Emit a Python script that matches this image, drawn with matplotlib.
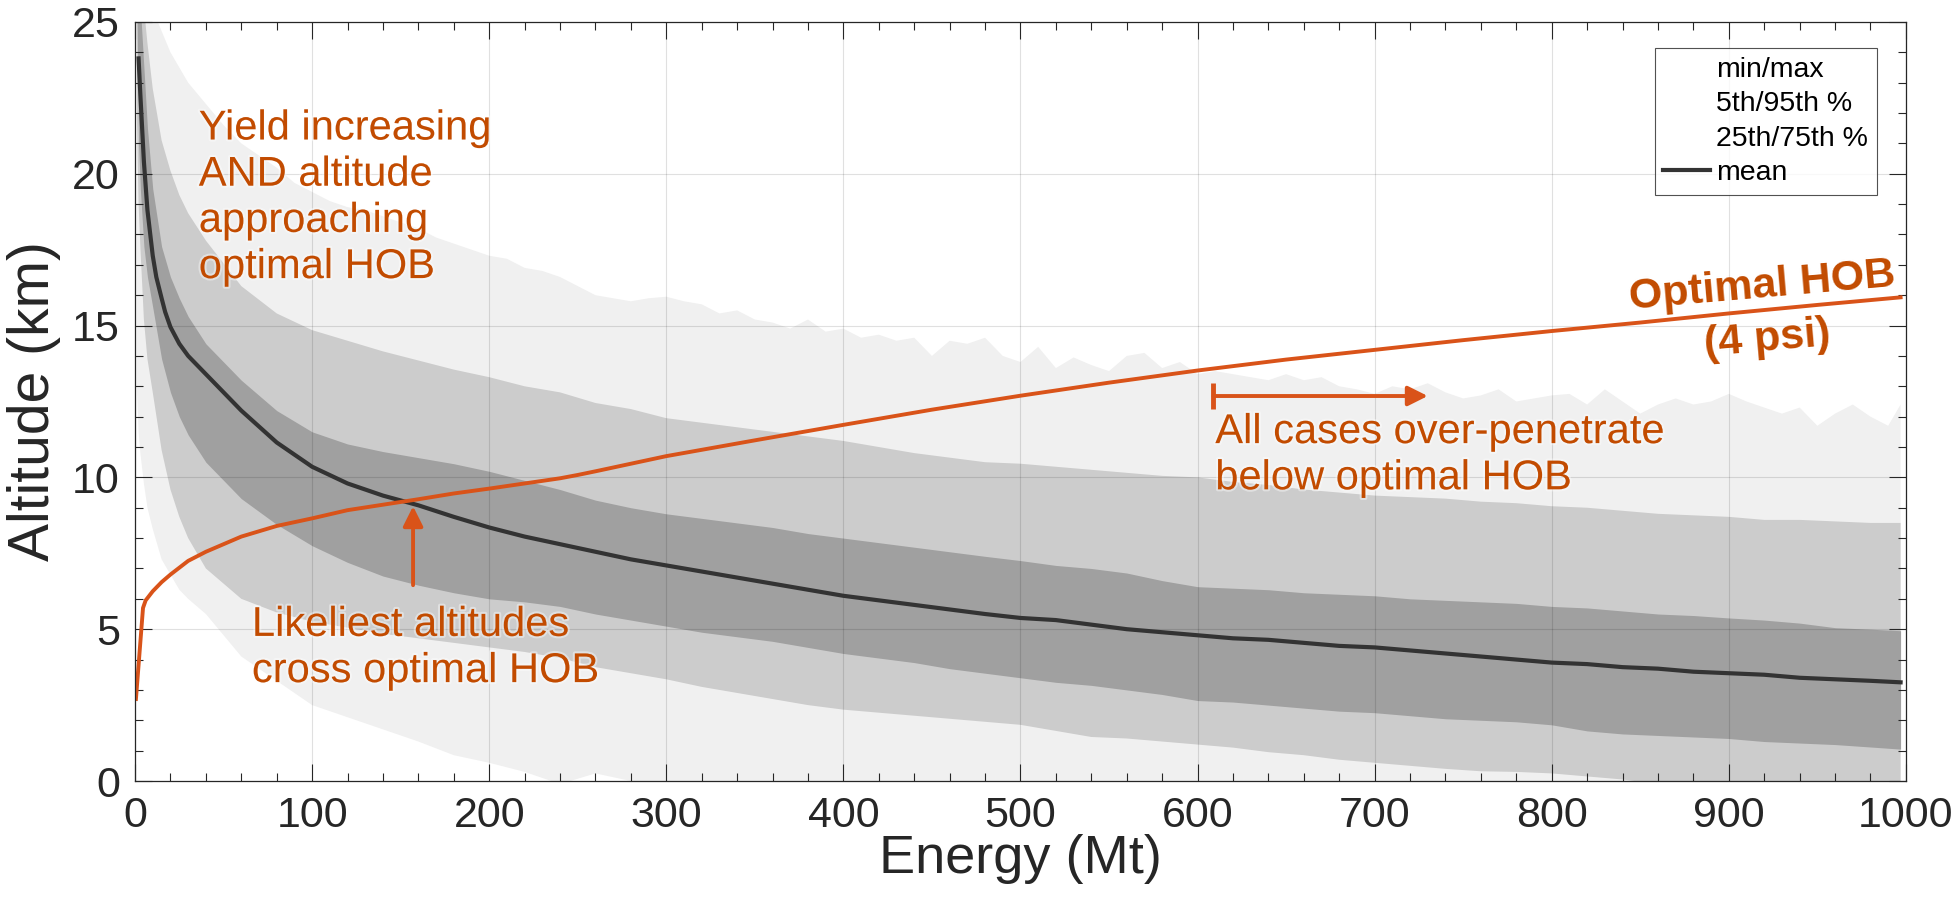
import numpy as np
import matplotlib.pyplot as plt
import matplotlib.patheffects as pe
from matplotlib.patches import Patch
from matplotlib.lines import Line2D

plt.rcParams['font.family'] = ['Liberation Sans', 'DejaVu Sans']

# energy grid (Mt) shared by the percentile bands
energy = [1, 2, 3, 5, 7, 10, 15, 20, 25, 30, 40,
          60, 80, 100, 120, 140, 160, 180, 200, 220, 240, 260, 280, 300,
          320, 340, 360, 380, 400, 420, 440, 460, 480, 500, 520, 540, 560,
          580, 600, 620, 640, 660, 680, 700, 720, 740, 760, 780, 800, 820,
          840, 860, 880, 900, 920, 940, 960, 980, 997]

alt_min = [13.0, 11.5, 10.8, 9.8, 9.0, 8.3, 7.3, 6.8, 6.3, 6.0, 5.5,
           4.1, 3.3, 2.5, 2.1, 1.7, 1.3, 0.85, 0.6, 0.3, -0.1, 0.25, 0.0, -0.3,
           -0.5, -0.5, -0.5, -0.5, -0.5, -0.5, -0.5, -0.5, -0.5, -0.5, -0.5, -0.5, -0.5,
           -0.5, -0.5, -0.5, -0.5, -0.5, -0.5, -0.5, -0.5, -0.5, -0.5, -0.5, -0.5, -0.5,
           -0.5, -0.5, -0.5, -0.5, -0.5, -0.5, -0.5, -0.5, -0.5]

alt_p5 = [22.0, 19.0, 17.6, 15.2, 13.9, 12.8, 10.9, 9.6, 8.7, 8.0, 7.0,
          6.0, 5.55, 5.25, 5.05, 4.85, 4.7, 4.55, 4.4, 4.25, 4.05, 3.75, 3.55, 3.35,
          3.1, 2.9, 2.7, 2.5, 2.35, 2.25, 2.15, 2.05, 1.95, 1.85, 1.65, 1.45, 1.4,
          1.3, 1.2, 1.1, 0.95, 0.85, 0.7, 0.6, 0.5, 0.4, 0.32, 0.3, 0.25, 0.15,
          0.05, -0.1, -0.2, -0.3, -0.4, -0.5, -0.55, -0.6, -0.7]

alt_p25 = [26.0, 21.0, 19.5, 17.6, 16.6, 15.6, 13.9, 12.8, 12.0, 11.4, 10.5,
           9.3, 8.45, 7.75, 7.2, 6.75, 6.45, 6.2, 6.0, 5.9, 5.75, 5.5, 5.3, 5.1,
           4.9, 4.75, 4.6, 4.4, 4.2, 4.05, 3.9, 3.7, 3.55, 3.4, 3.25, 3.15, 3.0,
           2.85, 2.65, 2.6, 2.5, 2.4, 2.3, 2.25, 2.15, 2.05, 2.0, 1.95, 1.85, 1.65,
           1.55, 1.5, 1.45, 1.4, 1.3, 1.25, 1.2, 1.12, 1.05]

alt_p75 = [30.0, 26.0, 25.5, 23.5, 21.5, 19.5, 17.6, 16.6, 15.9, 15.3, 14.4,
           13.2, 12.2, 11.5, 11.1, 10.85, 10.65, 10.45, 10.2, 9.9, 9.6, 9.25, 9.0, 8.8,
           8.65, 8.5, 8.35, 8.15, 8.0, 7.85, 7.7, 7.55, 7.4, 7.26, 7.1, 7.0, 6.85,
           6.6, 6.4, 6.35, 6.3, 6.2, 6.15, 6.1, 6.0, 5.95, 5.9, 5.85, 5.75, 5.7,
           5.6, 5.5, 5.45, 5.37, 5.3, 5.2, 5.05, 5.0, 4.95]

alt_p95 = [32.0, 28.0, 27.0, 25.5, 24.3, 22.8, 21.1, 20.1, 19.3, 18.7, 17.8,
           16.3, 15.4, 14.85, 14.5, 14.15, 13.85, 13.55, 13.3, 13.0, 12.8, 12.45, 12.25, 11.95,
           11.8, 11.65, 11.5, 11.35, 11.2, 11.0, 10.8, 10.65, 10.5, 10.45, 10.35, 10.25, 10.15,
           10.05, 10.0, 9.85, 9.75, 9.6, 9.5, 9.4, 9.35, 9.3, 9.2, 9.15, 9.05, 9.0,
           8.9, 8.8, 8.75, 8.7, 8.6, 8.6, 8.55, 8.5, 8.5]

# max edge is more jagged, read on a finer grid
energy_max = [1, 10, 20, 30, 40, 50, 60, 70, 80, 90, 100, 110, 120, 130, 140, 150,
              160, 170, 180, 190, 200, 210, 220, 230, 240, 250, 260, 270, 280, 290,
              300, 310, 320, 330, 340, 350, 360, 370, 380, 390, 400, 410, 420, 430,
              440, 450, 460, 470, 480, 490, 500, 510, 520, 530, 540, 550, 560, 570,
              580, 590, 600, 610, 620, 630, 640, 650, 660, 670, 680, 690, 700, 710,
              720, 730, 740, 750, 760, 770, 780, 790, 800, 810, 820, 830, 840, 850,
              860, 870, 880, 890, 900, 910, 920, 930, 940, 950, 960, 970, 980, 990, 997]
alt_max = [35.0, 25.4, 24.0, 23.0, 22.3, 21.6, 21.0, 20.6, 20.2, 19.7, 19.4, 19.1, 18.9, 18.8, 18.6, 18.4,
           18.2, 17.9, 17.7, 17.5, 17.3, 17.2, 16.9, 16.8, 16.6, 16.3, 16.0, 15.9, 15.8, 15.9,
           15.95, 15.8, 15.7, 15.4, 15.5, 15.2, 15.1, 14.9, 15.2, 14.8, 14.9, 14.6, 14.7, 14.5,
           14.6, 14.0, 14.5, 14.4, 14.6, 14.0, 13.8, 14.3, 13.6, 13.95, 13.7, 13.5, 14.0, 14.1,
           13.6, 13.8, 13.4, 13.5, 13.4, 13.3, 13.2, 13.4, 13.2, 13.3, 13.0, 12.9, 12.75, 13.0,
           12.9, 13.1, 12.8, 12.6, 12.7, 12.9, 12.5, 12.6, 12.7, 12.75, 12.4, 12.9, 12.5, 12.1,
           12.4, 12.6, 12.4, 12.5, 12.75, 12.5, 12.3, 12.1, 12.3, 11.7, 12.1, 12.4, 12.0, 11.7, 12.4]

energy_mean = [2, 3, 5, 7, 10, 12, 15, 17, 20, 25, 30, 40,
               60, 80, 100, 120, 140, 160, 180, 200, 220, 240, 260, 280, 300,
               320, 340, 360, 380, 400, 420, 440, 460, 480, 500, 520, 540, 560,
               580, 600, 620, 640, 660, 680, 700, 720, 740, 760, 780, 800, 820,
               840, 860, 880, 900, 920, 940, 960, 980, 997]
alt_mean = [23.8, 22.6, 20.4, 18.8, 17.3, 16.6, 15.9, 15.45, 14.95, 14.4, 14.0, 13.4,
            12.2, 11.15, 10.35, 9.8, 9.4, 9.08, 8.7, 8.35, 8.05, 7.8, 7.55, 7.3, 7.1,
            6.9, 6.7, 6.5, 6.3, 6.1, 5.95, 5.8, 5.65, 5.5, 5.37, 5.3, 5.15, 5.0,
            4.9, 4.8, 4.7, 4.65, 4.55, 4.45, 4.4, 4.3, 4.2, 4.1, 4.0, 3.9, 3.85,
            3.75, 3.7, 3.6, 3.55, 3.5, 3.4, 3.35, 3.3, 3.25]

# optimal height of burst (4 psi)
energy_hob = [0.5, 4.5, 6, 10, 15, 20, 30, 40, 60, 80, 100, 120, 140, 160, 180, 200,
              220, 240, 250, 260, 280, 300, 350, 400, 450, 500, 550, 600, 650, 700,
              750, 800, 850, 900, 950, 997]
alt_hob = [2.7, 5.7, 5.95, 6.25, 6.55, 6.8, 7.25, 7.55, 8.05, 8.4, 8.65, 8.92, 9.1, 9.28, 9.47, 9.63,
           9.8, 9.97, 10.08, 10.2, 10.45, 10.7, 11.22, 11.73, 12.23, 12.69, 13.12, 13.52, 13.88, 14.2,
           14.52, 14.82, 15.1, 15.4, 15.68, 15.93]

legend_labels = ['min/max', '5th/95th %', '25th/75th %', 'mean']

orange = '#D95319'
txt_orange = '#C24B00'
dark = '#262626'

fig = plt.figure(figsize=(19.6, 9.11), dpi=100)
ax = fig.add_axes([0.0689, 0.1427, 0.9035, 0.8332])

ax.fill(np.concatenate([energy_max, energy[::-1]]),
        np.concatenate([alt_max, alt_min[::-1]]),
        color='#f0f0f0', lw=0, zorder=1)
ax.fill_between(energy, alt_p5, alt_p95, color='#cccccc', lw=0, zorder=1.1)
ax.fill_between(energy, alt_p25, alt_p75, color='#a0a0a0', lw=0, zorder=1.2)
ax.plot(energy_mean, alt_mean, color='#333333', lw=3, zorder=3)
ax.plot(energy_hob, alt_hob, color=orange, lw=2.8, zorder=3.1)

ax.set_xlim(0, 1000)
ax.set_ylim(0, 25)
ax.set_xticks(np.arange(0, 1001, 100))
ax.set_xticks(np.arange(0, 1001, 20), minor=True)
ax.set_yticks(np.arange(0, 26, 5))
ax.set_yticks(np.arange(0, 26, 1), minor=True)
ax.set_axisbelow(False)
ax.grid(which='major', color='k', alpha=0.12, lw=0.8)

ax.tick_params(which='both', direction='in', top=True, right=True, colors=dark,
               labelsize=31, pad=11)
ax.tick_params(which='major', length=12, width=0.8)
ax.tick_params(which='minor', length=6, width=0.8)
for s in ax.spines.values():
    s.set_color(dark)
    s.set_linewidth(0.9)
    s.set_zorder(5)

ax.set_xlabel('Energy (Mt)', fontsize=39, color=dark, labelpad=-2)
ax.set_ylabel('Altitude (km)', fontsize=41, color=dark, labelpad=8)

glow = [pe.withStroke(linewidth=3, foreground='white', alpha=0.4)]
ax.text(36, 22.15, 'Yield increasing\nAND altitude\napproaching\noptimal HOB',
        ha='left', va='top', fontsize=30, color=txt_orange, path_effects=glow, zorder=6)
ax.text(66, 5.8, 'Likeliest altitudes\ncross optimal HOB',
        ha='left', va='top', fontsize=30, color=txt_orange, path_effects=glow, zorder=6)
ax.text(610, 12.15, 'All cases over-penetrate\nbelow optimal HOB',
        ha='left', va='top', fontsize=30, color=txt_orange, path_effects=glow, zorder=6)
ax.text(919, 16.3, 'Optimal HOB', ha='center', va='center', fontsize=31,
        fontweight='bold', color=txt_orange, rotation=5, rotation_mode='anchor', zorder=6)
ax.text(922, 14.55, '(4 psi)', ha='center', va='center', fontsize=31,
        fontweight='bold', color=txt_orange, rotation=5, rotation_mode='anchor', zorder=6)

# arrows
ax.annotate('', xy=(157, 9.05), xytext=(157, 6.45),
            arrowprops=dict(arrowstyle='-|>,head_length=0.6,head_width=0.3',
                            mutation_scale=20, lw=2.8, color=orange, shrinkA=0, shrinkB=0),
            zorder=6)
ax.annotate('', xy=(730, 12.68), xytext=(609, 12.68),
            arrowprops=dict(arrowstyle='-|>,head_length=0.6,head_width=0.3',
                            mutation_scale=20, lw=2.8, color=orange, shrinkA=0, shrinkB=0),
            zorder=6)
ax.plot([609, 609], [12.25, 13.12], color=orange, lw=3.5, zorder=6, solid_capstyle='butt')

handles = [Patch(facecolor='none', edgecolor='none'),
           Patch(facecolor='none', edgecolor='none'),
           Patch(facecolor='none', edgecolor='none'),
           Line2D([], [], color='#333333', lw=3)]
leg = ax.legend(handles, legend_labels, loc='upper right', bbox_to_anchor=(0.9836, 0.9657),
                borderaxespad=0, fontsize=20.5, frameon=True, fancybox=False,
                handlelength=1.65, handletextpad=0.22, labelspacing=0.3, borderpad=0.3)
leg.get_frame().set_edgecolor(dark)
leg.get_frame().set_linewidth(0.8)
leg.set_zorder(7)

fig.savefig('out.png', dpi=100)
